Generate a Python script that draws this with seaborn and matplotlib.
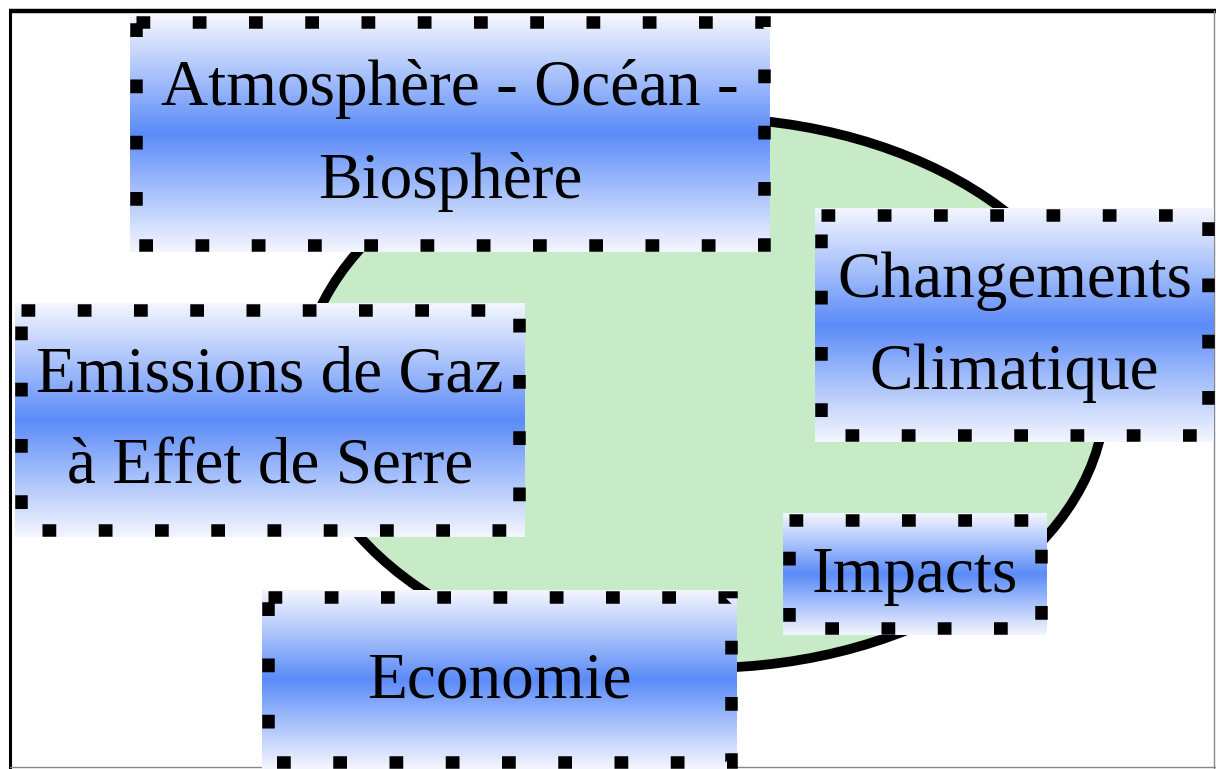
import numpy as np
import matplotlib.pyplot as plt
import seaborn as sns
from matplotlib.patches import Ellipse, Rectangle
from matplotlib.colors import LinearSegmentedColormap

sns.set_style("white")
plt.rcParams['font.family'] = ['Liberation Serif', 'DejaVu Serif']

# boxes of the diagram (pixel frame, y going down)
labels = ['Atmosphère - Océan -\nBiosphère', 'Changements\nClimatique',
          'Emissions de Gaz\nà Effet de Serre', 'Impacts', 'Economie']
box_x0 = [130, 815, 15, 783, 262]
box_x1 = [770, 1214, 525, 1047, 737]
box_y0 = [15, 208, 303, 513, 590]
box_y1 = [252, 442, 537, 635, 769]

ell_center = (703, 393)
ell_w, ell_h = 805, 550

W, H = 1216, 769
fig = plt.figure(figsize=(W / 100, H / 100), dpi=100)
ax = fig.add_axes([0, 0, 1, 1])
ax.set_xlim(0, W)
ax.set_ylim(H, 0)
ax.axis('off')

# outer frame
ax.plot([10, 10], [769, 11], color='black', lw=2.2, solid_capstyle='butt')
ax.plot([9, 1216], [11, 11], color='black', lw=3.2, solid_capstyle='butt')
ax.plot([1214, 1214], [11, 769], color='#888888', lw=1)
ax.plot([10, 1216], [767, 767], color='#888888', lw=1)

# central ellipse
ax.add_patch(Ellipse(ell_center, ell_w, ell_h, facecolor='#c6ebc6',
                     edgecolor='black', lw=7, zorder=1))

cmap = LinearSegmentedColormap.from_list(
    'band', ['#f4f6fe', '#a9c2fb', '#5b8bf8', '#a9c2fb', '#f4f6fe'])
grad = np.linspace(0, 1, 256).reshape(-1, 1)

for lab, x0, x1, y0, y1 in zip(labels, box_x0, box_x1, box_y0, box_y1):
    ax.imshow(grad, cmap=cmap, aspect='auto', extent=(x0, x1, y1, y0),
              zorder=2, interpolation='bilinear')
    ax.add_patch(Rectangle((x0 + 6, y0 + 7), x1 - x0 - 12, y1 - y0 - 14,
                           fill=False, edgecolor='black', lw=9,
                           linestyle=(0, (1.1, 3.4)), capstyle='butt',
                           joinstyle='miter', zorder=3))
    ax.text((x0 + x1) / 2, (y0 + y1) / 2 + 2, lab, ha='center', va='center',
            fontsize=47, linespacing=1.72, color='black', zorder=4)

fig.savefig('out.png', dpi=100)
